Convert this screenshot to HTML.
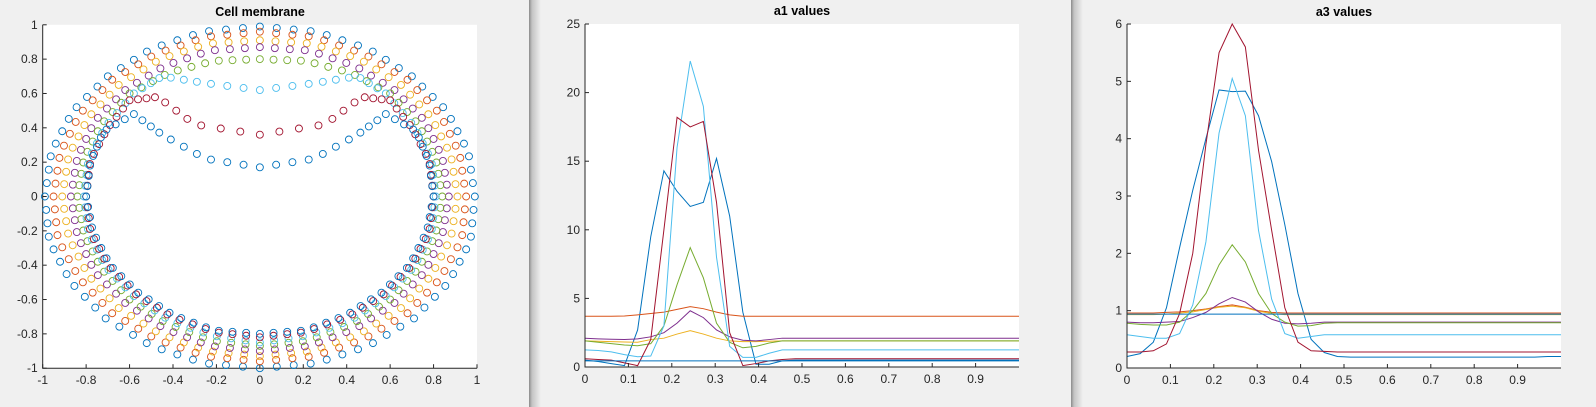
<!DOCTYPE html>
<html><head><meta charset="utf-8">
<style>
html,body{margin:0;padding:0;background:#f0f0f0;}
body{width:1596px;height:407px;overflow:hidden;position:relative;font-family:"Liberation Sans",sans-serif;}
svg{position:absolute;left:0;top:0;}
text{font-family:"Liberation Sans",sans-serif;fill:#262626;}
</style></head>
<body>
<svg id="fig" width="1596" height="407" viewBox="0 0 1596 407">
<defs>
<linearGradient id="shadow" x1="0" x2="1" y1="0" y2="0">
<stop offset="0" stop-color="#8a8a8a"/><stop offset="0.25" stop-color="#c4c4c4"/><stop offset="1" stop-color="#f0f0f0"/>
</linearGradient>
</defs>
<rect x="0" y="0" width="1596" height="407" fill="#f0f0f0"/>
<rect x="529" y="0" width="12" height="407" fill="url(#shadow)"/>
<rect x="1071" y="0" width="12" height="407" fill="url(#shadow)"/>
<rect x="42.7" y="24.8" width="434.3" height="343.4" fill="#fff"/>
<rect x="585" y="24" width="434" height="343" fill="#fff"/>
<rect x="1127" y="24" width="434" height="344" fill="#fff"/>
<text x="260" y="16" text-anchor="middle" font-size="12.5" font-weight="bold" style="fill:#000">Cell membrane</text>
<text x="802" y="15" text-anchor="middle" font-size="12.5" font-weight="bold" style="fill:#000">a1 values</text>
<text x="1344" y="16" text-anchor="middle" font-size="12.5" font-weight="bold" style="fill:#000">a3 values</text>
<g id="g1"></g><g id="g2"></g><g id="g3"></g>
</svg>
<script>
const COLORS=["#0072BD","#D95319","#EDB120","#7E2F8E","#77AC30","#4DBEEE","#A2142F","#0072BD"];
// Membrane layers: right-half sample points at phi = -90..90 step 15 (mirrored to left)
const phiSamples=[-90,-75,-60,-45,-30,-15,0,15,30,45,60,75,90];
const layerX=[
[0,.26,.5,.71,.87,.97,.99,.96,.86,.7,.5,.26,0],
[0,.25,.48,.68,.83,.93,.95,.92,.83,.68,.48,.25,0],
[0,.24,.46,.65,.79,.88,.91,.88,.79,.65,.46,.24,0],
[0,.23,.44,.62,.76,.84,.87,.84,.76,.62,.44,.23,0],
[0,.22,.43,.6,.73,.81,.84,.81,.73,.6,.42,.21,0],
[0,.22,.42,.58,.71,.79,.81,.79,.71,.58,.45,.25,0],
[0,.21,.41,.57,.7,.78,.8,.78,.7,.6,.47,.3,0],
[0,.21,.4,.56,.69,.77,.8,.78,.72,.58,.45,.25,0]];
const layerY=[
[-1,-.97,-.87,-.71,-.5,-.26,0,.26,.5,.7,.86,.96,.99],
[-.96,-.93,-.83,-.68,-.48,-.25,0,.25,.48,.68,.83,.93,.96],
[-.93,-.9,-.8,-.65,-.46,-.24,0,.24,.46,.65,.8,.89,.91],
[-.9,-.87,-.77,-.62,-.44,-.23,0,.23,.44,.62,.76,.85,.87],
[-.87,-.84,-.74,-.6,-.42,-.22,0,.22,.42,.6,.72,.79,.8],
[-.85,-.81,-.72,-.58,-.41,-.21,0,.21,.41,.6,.7,.66,.62],
[-.82,-.79,-.7,-.57,-.4,-.21,0,.21,.4,.56,.58,.42,.36],
[-.8,-.78,-.69,-.56,-.4,-.2,0,.2,.38,.48,.36,.22,.17]];
const memTicks=["-1","-0.8","-0.6","-0.4","-0.2","0","0.2","0.4","0.6","0.8","1"];

const lineXTicks=["0","0.1","0.2","0.3","0.4","0.5","0.6","0.7","0.8","0.9"];
const a1YTicks=["0","5","10","15","20","25"];
const a3YTicks=["0","1","2","3","4","5","6"];
const a1Blue=[0.5,0.4,0.25,0.1,2.7,9.5,14.3,12.8,11.7,12.0,15.2,11.0,4.0,0.2,0.2,0.45,0.5,0.5,0.5,0.5,0.5,0.5,0.5,0.5,0.5,0.5,0.5,0.5,0.5,0.5,0.5,0.5,0.5,0.5];
const a1Orange=[3.7,3.7,3.7,3.72,3.8,3.9,4.0,4.2,4.4,4.25,4.0,3.8,3.7,3.7,3.7,3.7,3.7,3.7,3.7,3.7,3.7,3.7,3.7,3.7,3.7,3.7,3.7,3.7,3.7,3.7,3.7,3.7,3.7,3.7];
const a1Yellow=[1.9,1.88,1.85,1.82,1.8,2.0,2.1,2.4,2.65,2.4,2.1,1.9,1.85,1.85,1.88,1.9,1.9,1.9,1.9,1.9,1.9,1.9,1.9,1.9,1.9,1.9,1.9,1.9,1.9,1.9,1.9,1.9,1.9,1.9];
const a1Purple=[2.1,2.05,2.02,2.0,2.05,2.2,2.5,3.2,4.1,3.6,2.7,2.2,1.95,1.9,2.0,2.1,2.1,2.1,2.1,2.1,2.1,2.1,2.1,2.1,2.1,2.1,2.1,2.1,2.1,2.1,2.1,2.1,2.1,2.1];
const a1Green=[1.9,1.8,1.7,1.6,1.55,1.7,3.0,6.0,8.7,6.5,3.2,1.8,1.4,1.5,1.75,1.9,1.9,1.9,1.9,1.9,1.9,1.9,1.9,1.9,1.9,1.9,1.9,1.9,1.9,1.9,1.9,1.9,1.9,1.9];
const a1Cyan=[1.25,1.2,1.1,0.9,0.75,0.8,3.0,16,22.3,19,8,1.5,0.7,0.7,1.0,1.25,1.25,1.25,1.25,1.25,1.25,1.25,1.25,1.25,1.25,1.25,1.25,1.25,1.25,1.25,1.25,1.25,1.25,1.25];
const a1DarkRed=[0.6,0.55,0.5,0.3,0.1,2.0,10,18.2,17.5,17.9,12,2.5,0.1,0.25,0.45,0.55,0.6,0.6,0.6,0.6,0.6,0.6,0.6,0.6,0.6,0.6,0.6,0.6,0.6,0.6,0.6,0.6,0.6,0.6];
const a1Blue2=[0.45,0.45,0.45,0.45,0.45,0.45,0.45,0.45,0.45,0.45,0.45,0.45,0.45,0.45,0.45,0.45,0.45,0.45,0.45,0.45,0.45,0.45,0.45,0.45,0.45,0.45,0.45,0.45,0.45,0.45,0.45,0.45,0.45,0.45];
const a3Blue=[0.2,0.25,0.45,1.05,2.1,3.1,4.0,4.85,4.82,4.83,4.4,3.6,2.5,1.3,0.5,0.27,0.2,0.19,0.19,0.19,0.19,0.19,0.19,0.19,0.19,0.19,0.19,0.19,0.19,0.19,0.19,0.19,0.2,0.2];
const a3Orange=[0.96,0.96,0.96,0.97,0.98,1.0,1.03,1.07,1.1,1.06,1.0,0.97,0.96,0.96,0.96,0.96,0.96,0.96,0.96,0.96,0.96,0.96,0.96,0.96,0.96,0.96,0.96,0.96,0.96,0.96,0.96,0.96,0.96,0.96];
const a3Yellow=[0.93,0.93,0.93,0.94,0.96,0.98,1.02,1.06,1.08,1.05,0.99,0.95,0.93,0.93,0.93,0.93,0.93,0.93,0.93,0.93,0.93,0.93,0.93,0.93,0.93,0.93,0.93,0.93,0.93,0.93,0.93,0.93,0.93,0.93];
const a3Purple=[0.8,0.79,0.79,0.8,0.81,0.88,0.97,1.12,1.23,1.15,0.98,0.85,0.78,0.77,0.78,0.8,0.8,0.8,0.8,0.8,0.8,0.8,0.8,0.8,0.8,0.8,0.8,0.8,0.8,0.8,0.8,0.8,0.8,0.8];
const a3Green=[0.78,0.76,0.75,0.75,0.8,1.0,1.3,1.8,2.15,1.85,1.3,0.95,0.8,0.73,0.74,0.78,0.79,0.79,0.79,0.79,0.79,0.79,0.79,0.79,0.79,0.79,0.79,0.79,0.79,0.79,0.79,0.79,0.79,0.79];
const a3Cyan=[0.58,0.55,0.52,0.52,0.6,1.1,2.2,4.1,5.05,4.4,2.4,1.2,0.6,0.52,0.55,0.58,0.58,0.58,0.58,0.58,0.58,0.58,0.58,0.58,0.58,0.58,0.58,0.58,0.58,0.58,0.58,0.58,0.58,0.58];
const a3DarkRed=[0.28,0.28,0.3,0.42,0.95,2.0,3.9,5.5,6.0,5.6,3.8,2.4,1.05,0.45,0.3,0.29,0.28,0.28,0.28,0.28,0.28,0.28,0.28,0.28,0.28,0.28,0.28,0.28,0.28,0.28,0.28,0.28,0.28,0.28];
const a3Blue2=[0.94,0.94,0.94,0.94,0.94,0.94,0.94,0.94,0.94,0.94,0.94,0.94,0.94,0.94,0.94,0.94,0.94,0.94,0.94,0.94,0.94,0.94,0.94,0.94,0.94,0.94,0.94,0.94,0.94,0.94,0.94,0.94,0.94,0.94];

const NS="http://www.w3.org/2000/svg";
function mk(tag,parent,attrs){const e=document.createElementNS(NS,tag);for(const k in attrs)e.setAttribute(k,attrs[k]);parent.appendChild(e);return e;}

function drawAxes(g,name,L,T,R,B,xTickVals,xLabels,xScale,yTickVals,yLabels,yScale){
  const ax=mk('path',g,{d:`M${L},${T}V${B}H${R}`,stroke:'#262626','stroke-width':1,fill:'none'});
  
  
  xTickVals.forEach((v,i)=>{
    const x=xScale(v);
    const t=mk('line',g,{x1:x,x2:x,y1:B,y2:B-4,stroke:'#262626','stroke-width':1});
    
    
    const tx=mk('text',g,{x:x,y:B+16,'text-anchor':'middle','font-size':12});
    tx.textContent=xLabels[i];
    
    
  });
  yTickVals.forEach((v,i)=>{
    const y=yScale(v);
    const t=mk('line',g,{x1:L,x2:L+4,y1:y,y2:y,stroke:'#262626','stroke-width':1});
    
    
    const tx=mk('text',g,{x:L-5,y:y+4,'text-anchor':'end','font-size':12});
    tx.textContent=yLabels[i];
    
    
  });
}

// Panel 1
const g1=document.getElementById('g1');
const mx=v=>42.7+(v+1)*217.15, my=v=>196.5-v*171.7;
const memVals=memTicks.map(Number);
drawAxes(g1,'membrane',42.7,24.8,477,368.2,memVals,memTicks,mx,memVals,memTicks,my);
function interp(arr,phi){const t=(phi+90)/15;const i=Math.min(Math.floor(t),arr.length-2);const f=t-i;return arr[i]*(1-f)+arr[i+1]*f;}
layerX.forEach((xs,k)=>{
  const lg=mk('g',g1,{});
  
  
  const ys=layerY[k];
  for(let phi=-90;phi<=90.001;phi+=4.5){
    const x=interp(xs,phi), y=interp(ys,phi);
    const sides=(Math.abs(phi)>89.9)?[1]:[1,-1];
    sides.forEach(s=>{
      const c=mk('circle',lg,{cx:mx(s*x),cy:my(y),r:3.5,fill:'none',stroke:COLORS[k],'stroke-width':0.9});
      
      
    });
  }
});

function drawLines(g,name,series,xScale,yScale){
  series.forEach((vals,k)=>{
    const d=vals.map((v,i)=>(i?'L':'M')+xScale(i/33).toFixed(2)+','+yScale(v).toFixed(2)).join('');
    const p=mk('path',g,{d:d,fill:'none',stroke:COLORS[k],'stroke-width':1});
    
    
  });
}
// Panel 2
const g2=document.getElementById('g2');
const x2=v=>585+v*434, y2=v=>367-v*13.72;
drawLines(g2,'a1',[a1Blue,a1Orange,a1Yellow,a1Purple,a1Green,a1Cyan,a1DarkRed,a1Blue2],x2,y2);
drawAxes(g2,'a1',585,24,1019,367,lineXTicks.map(Number),lineXTicks,x2,a1YTicks.map(Number),a1YTicks,y2);
// Panel 3
const g3=document.getElementById('g3');
const x3=v=>1127+v*434, y3=v=>368-v*57.33;
drawLines(g3,'a3',[a3Blue,a3Orange,a3Yellow,a3Purple,a3Green,a3Cyan,a3DarkRed,a3Blue2],x3,y3);
drawAxes(g3,'a3',1127,24,1561,368,lineXTicks.map(Number),lineXTicks,x3,a3YTicks.map(Number),a3YTicks,y3);
</script>
</body></html>
